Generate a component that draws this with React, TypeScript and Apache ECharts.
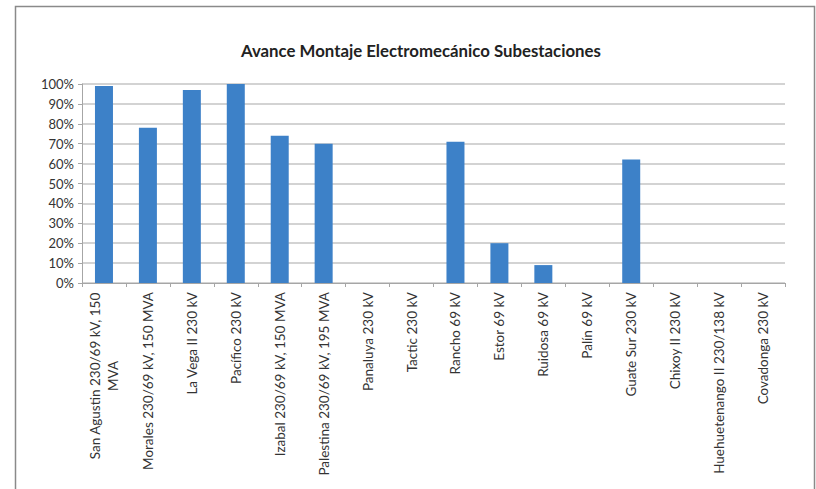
import React, { useEffect, useRef } from "react";
import * as echarts from "echarts";

const titleText = "Avance Montaje Electromecánico Subestaciones";
const categories = [
  "San Agustin 230/69 kV, 150\nMVA",
  "Morales 230/69 kV, 150 MVA",
  "La Vega II 230 kV",
  "Pacífico 230 kV",
  "Izabal 230/69 kV, 150 MVA",
  "Palestina 230/69 kV, 195 MVA",
  "Panaluya 230 kV",
  "Tactic 230 kV",
  "Rancho 69 kV",
  "Estor 69 kV",
  "Ruidosa 69 kV",
  "Palín 69 kV",
  "Guate Sur 230 kV",
  "Chixoy II 230 kV",
  "Huehuetenango II 230/138 kV",
  "Covadonga 230 kV",
];
const values = [99, 78, 97, 100, 74, 70, 0, 0, 71, 20, 9, 0, 62, 0, 0, 0];

const LABEL_FONT = 13.5;

export default function App() {
  const ref = useRef<HTMLDivElement>(null);
  useEffect(() => {
    if (!ref.current) return;
    const canvas = document.createElement("canvas");
    const ctx = canvas.getContext("2d")!;
    ctx.font = `${LABEL_FONT}px Lato`;
    const chart = echarts.init(ref.current, undefined, { renderer: "svg" });
    chart.setOption({
      animation: false,
      backgroundColor: "#ffffff",
      textStyle: { fontFamily: "Lato" },
      title: {
        text: titleText,
        left: 236,
        top: 37,
        textStyle: { fontFamily: "Lato", fontWeight: "bold", fontSize: 16.8, color: "#222" },
      },
      graphic: [
        {
          type: "rect",
          shape: { x: 15.5, y: 6.5, width: 799, height: 500 },
          style: { fill: "none", stroke: "#8a8a8a", lineWidth: 1.5 },
          silent: true,
        },
      ],
      grid: { left: 82, right: 31, top: 84, bottom: 206 },
      xAxis: {
        type: "category",
        data: categories,
        axisLine: { lineStyle: { color: "#a6a6a6", width: 1 } },
        axisTick: { show: true, alignWithLabel: false, length: 4, lineStyle: { color: "#a6a6a6" } },
        axisLabel: {
          rotate: 90,
          interval: 0,
          fontSize: LABEL_FONT,
          color: "#333",
          fontFamily: "Lato",
          margin: 9,
          lineHeight: 18,
          formatter: (v: string) => {
            if (v.indexOf("\n") < 0) return v;
            return v
              .split("\n")
              .map((l) => `{c|${l}}`)
              .join("\n");
          },
          rich: {
            c: {
              width: Math.ceil(ctx.measureText("San Agustin 230/69 kV, 150").width),
              align: "center",
              fontSize: LABEL_FONT,
              fontFamily: "Lato",
              color: "#333",
              lineHeight: 18,
            },
          },
        },
      },
      yAxis: {
        type: "value",
        min: 0,
        max: 100,
        interval: 10,
        axisLine: { show: true, lineStyle: { color: "#a6a6a6" } },
        axisTick: { show: true, length: 4, lineStyle: { color: "#a6a6a6" } },
        axisLabel: { formatter: "{value}%", fontSize: 13, color: "#333", fontFamily: "Lato", margin: 8 },
        splitLine: { lineStyle: { color: "#c4c4c4", width: 1.5 } },
      },
      series: [
        {
          type: "bar",
          data: values,
          barWidth: 18,
          itemStyle: { color: "#3D81C8" },
        },
      ],
    });
    return () => chart.dispose();
  }, []);
  return (
    <div
      ref={ref}
      style={{ position: "absolute", left: 0, top: 0, width: 816, height: 489 }}
    />
  );
}
